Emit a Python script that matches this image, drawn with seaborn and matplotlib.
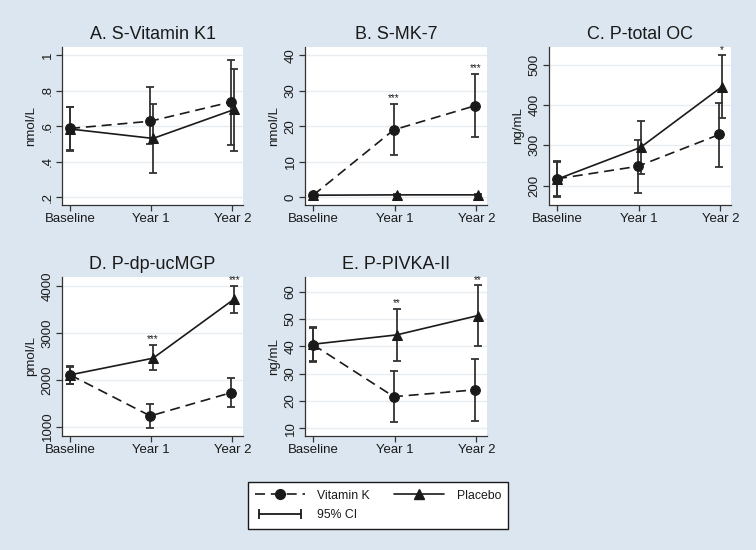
import numpy as np
import pandas as pd
import matplotlib
matplotlib.use("Agg")
import matplotlib.pyplot as plt
from matplotlib.lines import Line2D
from matplotlib.legend_handler import HandlerLine2D
from matplotlib.ticker import FuncFormatter
import seaborn as sns

# ---- data ----
time_labels = ["Baseline", "Year 1", "Year 2"]

# A. S-Vitamin K1 (nmol/L)
k1_vk = [0.588, 0.629, 0.738]
k1_vk_lo = [0.462, 0.498, 0.494]
k1_vk_hi = [0.710, 0.822, 0.976]
k1_pl = [0.585, 0.532, 0.695]
k1_pl_lo = [0.465, 0.335, 0.462]
k1_pl_hi = [0.708, 0.728, 0.925]

# B. S-MK-7 (nmol/L)
mk7_vk = [0.6, 19.0, 25.8]
mk7_vk_lo = [0.3, 11.8, 16.9]
mk7_vk_hi = [0.9, 26.3, 34.8]
mk7_pl = [0.6, 0.7, 0.7]
mk7_pl_lo = [0.3, 0.4, 0.4]
mk7_pl_hi = [0.9, 1.0, 1.0]
mk7_stars = ["", "***", "***"]

# C. P-total OC (ng/mL)
oc_vk = [217, 248, 327]
oc_vk_lo = [172, 183, 247]
oc_vk_hi = [258, 313, 405]
oc_pl = [216, 295, 446]
oc_pl_lo = [175, 230, 368]
oc_pl_hi = [260, 361, 523]
oc_stars = ["", "", "*"]

# D. P-dp-ucMGP (pmol/L)
mgp_vk = [2107, 1229, 1729]
mgp_vk_lo = [1914, 964, 1429]
mgp_vk_hi = [2286, 1479, 2036]
mgp_pl = [2107, 2464, 3729]
mgp_pl_lo = [1920, 2207, 3429]
mgp_pl_hi = [2290, 2750, 4014]
mgp_stars = ["", "***", "***"]

# E. P-PIVKA-II (ng/mL)
piv_vk = [40.6, 21.6, 24.1]
piv_vk_lo = [34.4, 12.3, 12.7]
piv_vk_hi = [46.9, 31.1, 35.5]
piv_pl = [40.8, 44.2, 51.3]
piv_pl_lo = [34.6, 34.7, 40.0]
piv_pl_hi = [47.0, 53.6, 62.3]
piv_stars = ["", "**", "**"]

BG = "#dce6f0"
INK = "#1a1a1a"
BAR = "#333333"

sns.set_style("white")
plt.rcParams["font.family"] = ["Liberation Sans", "DejaVu Sans"]

fig = plt.figure(figsize=(7.56, 5.5), dpi=100, facecolor=BG)

W, H = 756, 550
def axes_at(left, top, right, bottom):
    return fig.add_axes([left / W, 1 - bottom / H, (right - left) / W, (bottom - top) / H])

panels = [
    dict(title="A. S-Vitamin K1", ylabel="nmol/L", box=(62, 47, 243, 205),
         vk=(k1_vk, k1_vk_lo, k1_vk_hi), pl=(k1_pl, k1_pl_lo, k1_pl_hi),
         stars=["", "", ""], ylim=(0.157, 1.047), ticks=[0.2, 0.4, 0.6, 0.8, 1.0],
         fmt=lambda v, p: "1" if abs(v - 1) < 1e-9 else f"{v:.1f}".lstrip("0")),
    dict(title="B. S-MK-7", ylabel="nmol/L", box=(305, 47, 487, 205),
         vk=(mk7_vk, mk7_vk_lo, mk7_vk_hi), pl=(mk7_pl, mk7_pl_lo, mk7_pl_hi),
         stars=mk7_stars, ylim=(-2.15, 42.3), ticks=[0, 10, 20, 30, 40], fmt=None),
    dict(title="C. P-total OC", ylabel="ng/mL", box=(549, 47, 731, 205),
         vk=(oc_vk, oc_vk_lo, oc_vk_hi), pl=(oc_pl, oc_pl_lo, oc_pl_hi),
         stars=oc_stars, ylim=(152, 544), ticks=[200, 300, 400, 500], fmt=None),
    dict(title="D. P-dp-ucMGP", ylabel="pmol/L", box=(62, 277, 243, 436),
         vk=(mgp_vk, mgp_vk_lo, mgp_vk_hi), pl=(mgp_pl, mgp_pl_lo, mgp_pl_hi),
         stars=mgp_stars, ylim=(800, 4200), ticks=[1000, 2000, 3000, 4000], fmt=None),
    dict(title="E. P-PIVKA-II", ylabel="ng/mL", box=(305, 277, 487, 436),
         vk=(piv_vk, piv_vk_lo, piv_vk_hi), pl=(piv_pl, piv_pl_lo, piv_pl_hi),
         stars=piv_stars, ylim=(7.2, 65.4), ticks=[10, 20, 30, 40, 50, 60], fmt=None),
]

x_base = np.arange(3)
vk_shift = np.array([0, -0.012, -0.012])
pl_shift = np.array([0, 0.022, 0.022])

for p in panels:
    ax = axes_at(*p["box"])
    ax.set_facecolor("white")

    vk, vk_lo, vk_hi = p["vk"]
    pl, pl_lo, pl_hi = p["pl"]
    df = pd.DataFrame({
        "x": np.concatenate([x_base + vk_shift, x_base + pl_shift]),
        "y": vk + pl,
        "group": ["Vitamin K"] * 3 + ["Placebo"] * 3,
    })

    # CI bars first, lines on top
    for xs, ys, lo, hi in [(x_base + vk_shift, vk, vk_lo, vk_hi),
                           (x_base + pl_shift, pl, pl_lo, pl_hi)]:
        ys = np.array(ys)
        err = [ys - np.array(lo), np.array(hi) - ys]
        ax.errorbar(xs, ys, yerr=err, fmt="none", ecolor=BAR, elinewidth=1.3,
                    capsize=3.2, capthick=1.3, zorder=2)

    sns.lineplot(data=df, x="x", y="y", style="group", ax=ax, color=INK,
                 markers={"Vitamin K": "o", "Placebo": "^"},
                 dashes={"Vitamin K": (6, 3.5), "Placebo": ""},
                 markersize=7, markeredgecolor=INK, linewidth=1.2,
                 legend=False, zorder=3)

    # significance stars above the higher CI
    for i, s in enumerate(p["stars"]):
        if s:
            top = max(vk_hi[i], pl_hi[i])
            xs = (x_base + pl_shift)[i] if pl_hi[i] >= vk_hi[i] else (x_base + vk_shift)[i]
            ax.annotate(s, (xs, top), xytext=(0, 0.5), textcoords="offset points",
                        ha="center", va="bottom", fontsize=7, color=INK)

    ax.set_xlim(-0.1, 2.13)
    ax.set_ylim(*p["ylim"])
    ax.set_xticks(x_base)
    ax.set_xticklabels(time_labels)
    ax.set_yticks(p["ticks"])
    if p["fmt"] is not None:
        ax.yaxis.set_major_formatter(FuncFormatter(p["fmt"]))
    for lbl in ax.get_yticklabels():
        lbl.set_rotation(90)
        lbl.set_va("center")
    ax.grid(axis="y", color="#e9edf0", linewidth=1.0, zorder=0)
    ax.set_axisbelow(True)
    ax.tick_params(axis="both", direction="out", length=4, width=0.9, color="#333333",
                   labelsize=9.5, labelcolor=INK, pad=2, left=True, bottom=True)
    for side in ["top", "right"]:
        ax.spines[side].set_visible(False)
    for side in ["left", "bottom"]:
        ax.spines[side].set_color("#333333")
        ax.spines[side].set_linewidth(0.9)
    ax.set_xlabel("")
    ax.set_ylabel(p["ylabel"], fontsize=9.6, color=INK, labelpad=3)
    ax.set_title(p["title"], fontsize=12.9, color=INK, pad=6)

# ---- shared legend ----
h_vk = Line2D([], [], color=INK, linestyle=(0, (6, 3.5)), marker="o", markersize=7,
              linewidth=1.2)
h_pl = Line2D([], [], color=INK, linestyle="-", marker="^", markersize=7, linewidth=1.2)
h_ci = Line2D([], [], color=INK, linestyle="-", marker="|", markersize=7,
              markeredgewidth=1.3, linewidth=1.3)
leg = fig.legend([h_vk, h_ci, h_pl], ["Vitamin K", "95% CI", "Placebo"], ncol=2,
                 loc="center", bbox_to_anchor=(378 / W, 1 - 505.5 / H),
                 fontsize=8.8, frameon=True, fancybox=False, edgecolor=INK,
                 facecolor="white", framealpha=1, handlelength=4.1,
                 handletextpad=1.0, columnspacing=2.0, borderpad=0.6,
                 labelspacing=0.65, handler_map={h_ci: HandlerLine2D(numpoints=2)})
leg.get_frame().set_linewidth(1.0)
for t in leg.get_texts():
    t.set_color(INK)

fig.savefig("out.png", dpi=100, facecolor=BG)
